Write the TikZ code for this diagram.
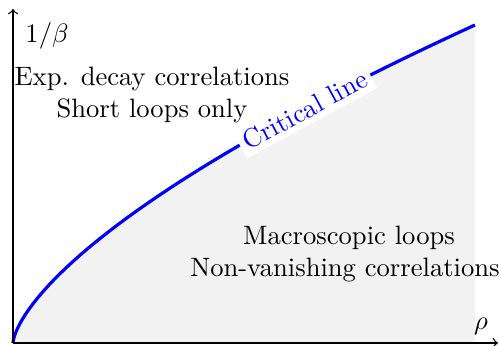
\documentclass[tikz,border=0pt]{standalone}
\tikzset{
  axis/.style={->, line width=0.5pt, black},
  crit/.style={blue, line width=1.2pt},
  region/.style={fill=black!5},
  lbl/.style={anchor=base, inner sep=0pt},
}
\begin{document}
\begin{tikzpicture}[x=0.376pt, y=-0.376pt]
  \useasboundingbox (0,0) rectangle (499,346);
  \coordinate (O) at (13,343);
  \coordinate (B) at (475,343);
  \coordinate (X) at (498,343);
  \coordinate (Y) at (13,9);
  % shaded region under the curve
  \fill[region] (O) -- plot[domain=0:318, samples=200, variable=\h]
      ({13+462*(\h/318)*sqrt(\h/318)}, {343-\h}) -- (B) -- cycle;
  % critical line
  \draw[crit] plot[domain=0:318, samples=200, variable=\h]
      ({13+462*(\h/318)*sqrt(\h/318)}, {343-\h});
  % axes
  \draw[axis] (O) -- (X);
  \draw[axis] (O) -- (Y);
  % labels
  \node[rotate=28.4, fill=white, text=blue, inner sep=2pt] (cl) at (305,110) {Critical line};
  \node[lbl] (yl) at (47,43) {$1/\beta$};
  \node[lbl] (xl) at (481,330) {$\rho$};
  \node[lbl] (tl1) at (152,86) {Exp. decay correlations};
  \node[lbl] (tl2) at (152,118) {Short loops only};
  \node[lbl] (br1) at (349,245) {Macroscopic loops};
  \node[lbl] (br2) at (345,277) {Non-vanishing correlations};
\end{tikzpicture}
\end{document}
